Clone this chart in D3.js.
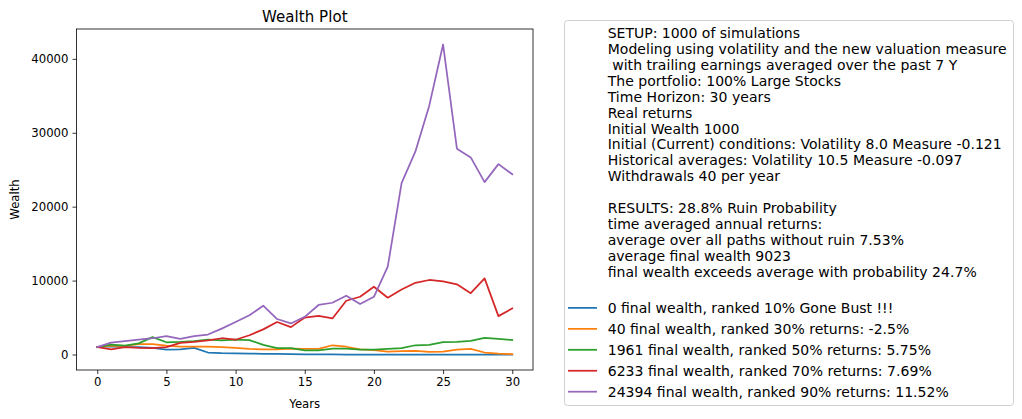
<!DOCTYPE html>
<html><head><meta charset="utf-8">
<script src="https://cdn.jsdelivr.net/npm/d3@7"></script>
<style>
body{margin:0;background:#fff;}
svg{font-family:"DejaVu Sans",sans-serif;}
</style></head>
<body><svg id="chart" width="1022" height="419"></svg>
<script>
const years = d3.range(0, 31);
const seriesNames = [
  "0 final wealth, ranked 10% Gone Bust !!!",
  "40 final wealth, ranked 30% returns: -2.5%",
  "1961 final wealth, ranked 50% returns: 5.75%",
  "6233 final wealth, ranked 70% returns: 7.69%",
  "24394 final wealth, ranked 90% returns: 11.52%"
];
const colors = ["#1f77b4", "#ff7f0e", "#2ca02c", "#d62728", "#9467bd"];
const bust = [1000,1100,1000,1000,900,650,700,900,270,180,150,130,100,70,50,30,20,10,0,0,0,0,0,0,0,0,0,0,0,0,0];
const p30 = [1000,1200,1150,1400,1400,1200,1050,1050,1050,1000,900,750,700,700,800,750,750,1250,1050,700,600,400,450,500,350,400,650,760,270,130,40];
const p50 = [1000,1350,1200,1500,2350,1650,1700,1800,2000,1900,2000,1950,1300,850,850,550,550,800,800,650,650,750,850,1250,1300,1670,1700,1850,2250,2100,1961];
const p70 = [1000,700,1000,900,850,1000,1570,1700,1900,2200,2000,2600,3400,4400,3700,5000,5240,4880,7270,7810,9170,7680,8800,9700,10080,9900,9500,8300,10300,5190,6233];
const p90 = [1000,1600,1800,2000,2200,2500,2100,2500,2700,3500,4400,5300,6600,4800,4200,5100,6700,7000,7950,6820,7810,11880,23190,27470,33670,41940,27840,26660,23320,25760,24394];
const seriesValues = [bust, p30, p50, p70, p90];
const xTicks = [0,5,10,15,20,25,30];
const yTicks = [0,10000,20000,30000,40000];
const infoLines = [
  "SETUP: 1000 of simulations",
  "Modeling using volatility and the new valuation measure",
  " with trailing earnings averaged over the past 7 Y",
  "The portfolio: 100% Large Stocks",
  "Time Horizon: 30 years",
  "Real returns",
  "Initial Wealth 1000",
  "Initial (Current) conditions: Volatility 8.0 Measure -0.121",
  "Historical averages: Volatility 10.5 Measure -0.097",
  "Withdrawals 40 per year",
  "",
  "RESULTS: 28.8% Ruin Probability",
  "time averaged annual returns:",
  "average over all paths without ruin 7.53%",
  "average final wealth 9023",
  "final wealth exceeds average with probability 24.7%"
];
// layout: rendered line ends (px) of the legend texts
const infoEnds = [800, 1006.7, 957.3, 841, 770.7, 692.3, 739.3, 1001.7, 962.3, 780, 0, 836.7, 822.3, 904, 791, 976.7];
const entryEnds = [893.3, 909.3, 931, 931.7, 948.7];

const svg = d3.select("#chart");
const L = 76.5, R = 533, T = 29, B = 370;
const x = d3.scaleLinear().domain([-1.5, 31.5]).range([L, R]);
const allV = seriesValues.flat();
const ymax = d3.max(allV), ymin = d3.min(allV);
const pad = (ymax - ymin) * 0.05;
const y = d3.scaleLinear().domain([ymin - pad, ymax + pad]).range([B, T]);

const line = d3.line().x((d, i) => x(years[i])).y(d => y(d));
const g = svg.append("g");
seriesValues.forEach((vals, k) => {
  g.append("path").datum(vals).attr("d", line)
    .attr("fill", "none").attr("stroke", colors[k]).attr("stroke-width", 1.75)
    .attr("stroke-linejoin", "round").attr("stroke-linecap", "square");
});

svg.append("rect").attr("x", L).attr("y", T).attr("width", R - L).attr("height", B - T)
  .attr("fill", "none").attr("stroke", "#000").attr("stroke-width", 0.8);

const xa = svg.append("g").attr("transform", `translate(0,${B})`)
  .call(d3.axisBottom(x).tickValues(xTicks).tickFormat(d3.format("d")).tickSize(4).tickPadding(4));
const ya = svg.append("g").attr("transform", `translate(${L},0)`)
  .call(d3.axisLeft(y).tickValues(yTicks).tickFormat(d3.format("d")).tickSize(4).tickPadding(4));
[xa, ya].forEach(a => {
  a.select(".domain").remove();
  a.selectAll("text").attr("font-family", "DejaVu Sans").attr("font-size", 11.7).attr("fill", "#000");
  a.selectAll("line").attr("stroke", "#000").attr("stroke-width", 0.8);
});

svg.append("text").attr("x", (L + R) / 2).attr("y", 21.5).attr("text-anchor", "middle")
  .attr("font-size", 15).attr("textLength", 85.6).attr("lengthAdjust", "spacing").text("Wealth Plot");
svg.append("text").attr("x", (L + R) / 2).attr("y", 408).attr("text-anchor", "middle")
  .attr("font-size", 11.7).text("Years");
svg.append("text").attr("transform", `translate(19,${(T + B) / 2}) rotate(-90)`).attr("text-anchor", "middle")
  .attr("font-size", 11.7).text("Wealth");

// legend
const lg = svg.append("g");
lg.append("rect").attr("x", 564.5).attr("y", 20.5).attr("width", 449).attr("height", 385)
  .attr("rx", 3).attr("fill", "#fff").attr("fill-opacity", 0.8).attr("stroke", "#d0d0d0").attr("stroke-width", 1);
const fs = 14;
const tx = 607.7;
infoLines.forEach((t, i) => {
  if (!t) return;
  const el = lg.append("text").attr("x", tx).attr("y", 38.3 + i * 15.88)
    .attr("font-size", fs).attr("xml:space", "preserve").style("white-space", "pre").text(t);
  el.attr("textLength", infoEnds[i] - tx).attr("lengthAdjust", "spacing");
});
seriesNames.forEach((t, k) => {
  const cy = 307.9 + k * 20.95;
  lg.append("line").attr("x1", 568).attr("x2", 597).attr("y1", cy).attr("y2", cy)
    .attr("stroke", colors[k]).attr("stroke-width", 1.75);
  lg.append("text").attr("x", tx).attr("y", cy + 5.3).attr("font-size", fs)
    .attr("textLength", entryEnds[k] - tx).attr("lengthAdjust", "spacing").text(t);
});
</script></body></html>
